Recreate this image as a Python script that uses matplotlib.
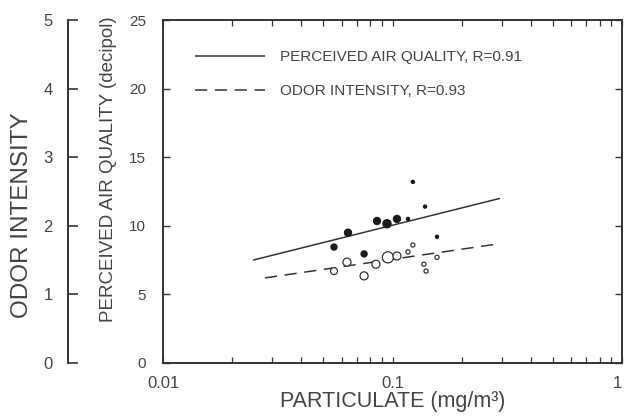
import numpy as np
import matplotlib
matplotlib.use("Agg")
import matplotlib.pyplot as plt
from matplotlib.ticker import LogLocator, NullFormatter, FixedLocator

plt.rcParams['font.family'] = ['Liberation Sans', 'DejaVu Sans']

# perceived air quality (filled dots), decipol
pap_x = [0.1227, 0.1386, 0.0856, 0.0946, 0.1046, 0.1168, 0.0640, 0.0556, 0.0752, 0.1563]
pap_y = [13.2, 11.4, 10.35, 10.15, 10.5, 10.5, 9.5, 8.45, 7.95, 9.2]
pap_ms = [2.2, 2.2, 5.0, 5.8, 5.0, 2.2, 5.0, 4.3, 4.3, 2.2]

# odor intensity (open circles), odor scale 0-5
odor_x = [0.0556, 0.0633, 0.0752, 0.0847, 0.0955, 0.1046, 0.1168, 0.1227, 0.137, 0.140, 0.1563]
odor_y = [1.34, 1.47, 1.27, 1.44, 1.54, 1.56, 1.62, 1.72, 1.44, 1.34, 1.54]
odor_ms = [5.0, 5.8, 5.8, 5.8, 8.0, 5.8, 3.0, 3.0, 3.0, 3.0, 3.0]

# regression lines (end points)
pap_fit_x = [0.0247, 0.294]
pap_fit_y = [7.5, 12.0]
odor_fit_x = [0.0278, 0.285]
odor_fit_y = [1.24, 1.734]

labels = ["PERCEIVED AIR QUALITY, R=0.91", "ODOR INTENSITY, R=0.93"]

ink = "#333333"
txt = "#444444"

fig = plt.figure(figsize=(6.25, 4.2), dpi=100)
ax = fig.add_axes([163 / 625, 1 - 363 / 420, 459 / 625, 343 / 420])
ax2 = ax.twinx()

ax.set_xscale('log')
ax.set_xlim(0.01, 1)
ax.set_ylim(0, 25)
ax2.set_ylim(0, 5)

# lines
l1, = ax.plot(pap_fit_x, pap_fit_y, color=ink, lw=1.1, solid_capstyle='butt')
l2, = ax2.plot(odor_fit_x, odor_fit_y, color=ink, lw=1.1, dashes=(8, 5))

# points
ax.scatter(pap_x, pap_y, s=np.array(pap_ms) ** 2, color='#1a1a1a', zorder=3)
ax2.scatter(odor_x, odor_y, s=np.array(odor_ms) ** 2, facecolor='white',
            edgecolor='#333333', linewidth=0.9, zorder=3)

# frame
for s in ax.spines.values():
    s.set_color(ink)
    s.set_linewidth(1.4)
for s in ['right', 'top', 'bottom']:
    ax2.spines[s].set_visible(False)
ax2.spines['left'].set_position(('outward', 68.4))
ax2.spines['left'].set_color(ink)
ax2.spines['left'].set_linewidth(1.4)
ax2.yaxis.set_ticks_position('left')
ax2.yaxis.set_label_position('left')

# ticks
ax.xaxis.set_major_locator(FixedLocator([0.01, 0.1, 1]))
ax.xaxis.set_minor_locator(LogLocator(base=10, subs=np.arange(2, 10)))
ax.xaxis.set_minor_formatter(NullFormatter())
ax.set_xticklabels(["0.01", "0.1", "1"])
ax.get_xticklabels()[-1].set_horizontalalignment('right')
ax.set_yticks([0, 5, 10, 15, 20, 25])
ax.tick_params(axis='x', which='both', direction='in', top=True, length=4,
               width=0.9, color=ink, labelsize=12, labelcolor=txt, pad=9)
ax.tick_params(axis='y', direction='in', right=True, length=5, width=1.0,
               color=ink, labelsize=11, labelcolor=txt, pad=12)
ax2.set_yticks([0, 1, 2, 3, 4, 5])
ax2.tick_params(axis='y', direction='in', length=7, width=1.2, color=ink,
                labelsize=12, labelcolor=txt, pad=11)

ax.set_xlabel("PARTICULATE (mg/m³)", fontsize=15.5, color=txt, labelpad=0)
ax.set_ylabel("PERCEIVED AIR QUALITY (decipol)", fontsize=13.5, color=txt)
ax.yaxis.set_label_coords(-0.100, 0.566)
ax2.set_ylabel("ODOR INTENSITY", fontsize=17.5, color=txt)
ax2.yaxis.set_label_coords(-0.283, 0.43)

leg = ax2.legend([l1, l2], labels, loc='upper left', bbox_to_anchor=(0.0697, 0.912),
                 frameon=False, fontsize=11, handlelength=4.6, handletextpad=0.98,
                 labelspacing=1.3, borderpad=0, borderaxespad=0)
for t in leg.get_texts():
    t.set_color(txt)

fig.savefig("out.png", dpi=100)
